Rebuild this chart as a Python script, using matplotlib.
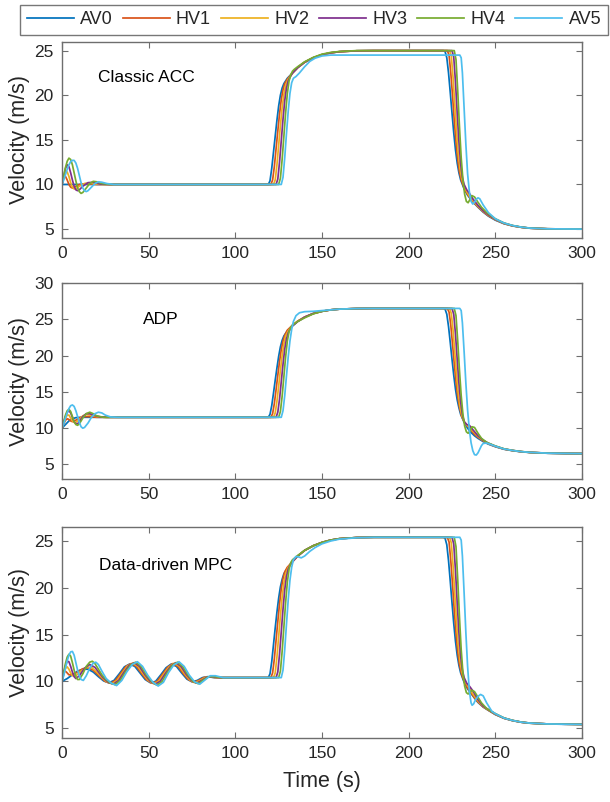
import matplotlib
matplotlib.use("Agg")
import matplotlib.pyplot as plt

plt.rcParams['font.family'] = ['Liberation Sans', 'DejaVu Sans']

NAMES = ["AV0", "HV1", "HV2", "HV3", "HV4", "AV5"]
COLORS = ["#0072BD", "#D95319", "#EDB120", "#7E2F8E", "#77AC30", "#4DBEEE"]
TITLES = ["Classic ACC", "ADP", "Data-driven MPC"]
XTICKS = [0, 50, 100, 150, 200, 250, 300]

# ---------------- Panel 1: Classic ACC  (time s, velocity m/s) ----------------
ACC_AV0 = [(0, 10), (119, 10), (120, 10.4), (121, 11.8), (122, 13.6), (123, 15.4), (124, 17.2), (125, 18.8),
           (126, 20.0), (127, 20.8), (128, 21.3), (130, 21.9), (133, 22.5), (136, 23.1), (140, 23.7), (145, 24.2),
           (150, 24.55), (155, 24.75), (160, 24.88), (170, 24.98), (180, 25), (220, 25), (221, 24.9), (222, 24.2),
           (223, 22.5), (224, 20.3), (225, 18.0), (226, 15.8), (227, 13.9), (228, 12.4), (229, 11.3), (230, 10.5),
           (232, 9.5), (234, 8.8), (236, 8.3), (238, 7.85), (240, 7.45), (243, 6.9), (246, 6.45), (250, 6.0),
           (255, 5.6), (260, 5.35), (265, 5.2), (270, 5.1), (280, 5.03), (290, 5.0), (300, 5.0)]
ACC_HV1 = [(0, 10), (1, 10.8), (2, 10.9), (3, 10.5), (4, 10.0), (5, 9.7), (6, 9.6), (8, 9.8), (10, 10.0), (14, 10.1),
           (20, 10), (120.5, 10), (121.5, 10.5), (122.5, 12.0), (123.5, 14.0), (124.5, 16.0), (125.5, 17.9),
           (126.5, 19.5), (127.5, 20.6), (128.5, 21.3), (130, 21.8), (133, 22.5), (136, 23.1), (140, 23.7),
           (145, 24.2), (150, 24.55), (155, 24.75), (160, 24.88), (170, 24.98), (180, 25), (222.3, 25), (223.3, 24.5),
           (224.3, 22.5), (225.3, 20.0), (226.3, 17.2), (227.3, 14.8), (228.3, 12.8), (229.3, 11.4), (230.5, 10.4),
           (232, 9.6), (234, 8.9), (236, 8.35), (238, 7.9), (240, 7.5), (243, 6.95), (246, 6.5), (250, 6.05),
           (255, 5.62), (260, 5.36), (265, 5.2), (270, 5.1), (280, 5.03), (300, 5.0)]
ACC_HV2 = [(0, 10), (1, 10.8), (2, 11.4), (3, 11.4), (4, 10.9), (5, 10.2), (6, 9.7), (7, 9.5), (8, 9.5), (10, 9.8),
           (13, 10.1), (16, 10.15), (20, 10.05), (25, 10), (122, 10), (123, 10.5), (124, 12.2), (125, 14.4),
           (126, 16.6), (127, 18.6), (128, 20.1), (129, 21.1), (130.5, 21.8), (133, 22.5), (136, 23.1), (140, 23.7),
           (145, 24.2), (150, 24.55), (155, 24.75), (160, 24.88), (170, 24.98), (180, 25), (223.6, 25), (224.6, 24.4),
           (225.6, 22.0), (226.6, 19.0), (227.6, 16.0), (228.6, 13.5), (229.6, 11.8), (230.6, 10.7), (232, 9.8),
           (233.5, 9.2), (235, 8.7), (237, 8.2), (240, 7.55), (243, 7.0), (246, 6.55), (250, 6.08), (255, 5.64),
           (260, 5.37), (265, 5.2), (270, 5.1), (280, 5.03), (300, 5.0)]
ACC_HV3 = [(0, 10), (1, 10.9), (2, 11.8), (3, 12.2), (4, 12.0), (5, 11.3), (6, 10.5), (7, 9.8), (8, 9.4), (9, 9.3),
           (10, 9.4), (12, 9.8), (15, 10.2), (18, 10.25), (22, 10.05), (27, 10), (123.5, 10), (124.5, 10.6),
           (125.5, 12.5), (126.5, 14.9), (127.5, 17.3), (128.5, 19.4), (129.5, 20.8), (130.5, 21.6), (131.5, 22.0),
           (133, 22.5), (136, 23.1), (140, 23.7), (145, 24.2), (150, 24.55), (155, 24.75), (160, 24.88), (170, 24.98),
           (180, 25), (225, 25), (226, 24.3), (227, 21.5), (228, 18.0), (229, 14.8), (230, 12.3), (231, 10.8),
           (232, 10.0), (233.5, 9.4), (235, 9.0), (237, 8.4), (240, 7.65), (243, 7.05), (246, 6.6), (250, 6.1),
           (255, 5.66), (260, 5.38), (265, 5.21), (270, 5.1), (280, 5.03), (300, 5.0)]
ACC_HV4 = [(0, 10), (1, 11.0), (2, 11.9), (3, 12.6), (4, 12.95), (5, 12.8), (6, 12.2), (7, 11.3), (8, 10.4),
           (9, 9.6), (10, 9.2), (11, 9.0), (12, 9.1), (14, 9.6), (16, 10.1), (18, 10.35), (20, 10.3), (23, 10.1),
           (28, 10), (125, 10), (126, 10.7), (127, 12.8), (128, 15.4), (129, 18.0), (130, 20.2), (131, 21.6),
           (132, 22.3), (133, 22.7), (134, 22.9), (136, 23.2), (140, 23.75), (145, 24.25), (150, 24.6), (155, 24.8),
           (160, 24.9), (170, 25), (180, 25), (226.3, 25), (227.3, 24.0), (228.3, 20.5), (229.3, 16.5), (230.3, 13.0),
           (231.3, 10.5), (232.3, 8.9), (233.3, 8.1), (234.3, 7.95), (235.3, 8.3), (236.5, 8.75), (238, 8.6),
           (240, 8.0), (242, 7.45), (245, 6.85), (250, 6.15), (255, 5.68), (260, 5.4), (265, 5.22), (270, 5.11),
           (280, 5.03), (300, 5.0)]
ACC_AV5 = [(0, 10), (1, 10.5), (2, 11.1), (3, 11.7), (4, 12.2), (5, 12.55), (6, 12.7), (7, 12.7), (8, 12.4),
           (9, 11.8), (10, 11.0), (11, 10.2), (12, 9.6), (13, 9.3), (14, 9.2), (15, 9.3), (17, 9.7), (19, 10.1),
           (21, 10.3), (23, 10.25), (26, 10.1), (30, 10), (126.5, 10), (127.5, 10.8), (128.5, 13.0), (129.5, 15.7),
           (130.5, 18.2), (131.5, 20.2), (132.5, 21.4), (133.5, 21.9), (135, 22.1), (137, 22.5), (140, 23.2),
           (143, 23.8), (146, 24.15), (150, 24.4), (155, 24.5), (229.5, 24.5), (230.3, 24.2), (231, 22.5),
           (232, 18.5), (233, 14.5), (234, 11.2), (235, 9.2), (236, 8.1), (237, 7.8), (238, 8.0), (239, 8.35),
           (240, 8.5), (241, 8.4), (243, 7.7), (246, 6.85), (250, 6.15), (255, 5.68), (260, 5.4), (265, 5.22),
           (270, 5.11), (280, 5.03), (300, 5.0)]

# ---------------- Panel 2: ADP ----------------
ADP_AV0 = [(0, 10), (2, 10.5), (4, 11.0), (6, 11.3), (8, 11.45), (11, 11.5), (119, 11.5), (120, 11.9), (121, 13.1),
           (122, 14.8), (123, 16.6), (124, 18.3), (125, 19.9), (126, 21.2), (127, 22.1), (128, 22.7), (130, 23.4),
           (133, 24.1), (136, 24.7), (140, 25.3), (145, 25.8), (150, 26.1), (155, 26.3), (160, 26.4), (170, 26.48),
           (180, 26.5), (220, 26.5), (221, 26.4), (222, 25.7), (223, 24.0), (224, 21.8), (225, 19.5), (226, 17.3),
           (227, 15.4), (228, 13.9), (229, 12.8), (230, 11.9), (232, 10.8), (234, 10.0), (236, 9.4), (238, 8.95),
           (240, 8.6), (243, 8.15), (246, 7.8), (250, 7.45), (255, 7.1), (260, 6.9), (265, 6.75), (270, 6.65),
           (280, 6.55), (290, 6.5), (300, 6.5)]
ADP_HV1 = [(0, 10), (1, 10.6), (2, 11.1), (3, 11.3), (4, 11.2), (5, 11.0), (6, 10.9), (8, 11.1), (10, 11.4),
           (12, 11.6), (15, 11.6), (20, 11.5), (120.5, 11.5), (121.5, 12.0), (122.5, 13.4), (123.5, 15.3),
           (124.5, 17.3), (125.5, 19.2), (126.5, 20.8), (127.5, 22.0), (128.5, 22.8), (130, 23.5), (133, 24.2),
           (136, 24.75), (140, 25.3), (145, 25.8), (150, 26.1), (155, 26.3), (160, 26.4), (170, 26.48), (180, 26.5),
           (222.3, 26.5), (223.3, 26.0), (224.3, 24.2), (225.3, 21.6), (226.3, 18.9), (227.3, 16.4), (228.3, 14.4),
           (229.3, 12.9), (230.5, 11.7), (232, 10.9), (234, 10.3), (236, 9.7), (238, 9.15), (240, 8.75), (243, 8.25),
           (246, 7.85), (250, 7.48), (255, 7.12), (260, 6.91), (265, 6.76), (270, 6.66), (280, 6.56), (300, 6.5)]
ADP_HV2 = [(0, 10), (1, 10.7), (2, 11.4), (3, 11.8), (4, 11.8), (5, 11.4), (6, 11.0), (7, 10.8), (8, 10.8),
           (10, 11.2), (12, 11.7), (14, 11.9), (16, 11.8), (20, 11.6), (25, 11.5), (122, 11.5), (123, 12.1),
           (124, 13.7), (125, 15.8), (126, 18.0), (127, 20.0), (128, 21.6), (129, 22.7), (130.5, 23.4), (133, 24.2),
           (136, 24.75), (140, 25.3), (145, 25.8), (150, 26.1), (155, 26.3), (160, 26.4), (170, 26.48), (180, 26.5),
           (223.6, 26.5), (224.6, 25.8), (225.6, 23.5), (226.6, 20.5), (227.6, 17.5), (228.6, 14.9), (229.6, 13.0),
           (230.6, 11.8), (232, 10.9), (233.5, 10.4), (235, 10.2), (237, 9.6), (240, 8.85), (243, 8.3), (246, 7.9),
           (250, 7.5), (255, 7.13), (260, 6.92), (265, 6.77), (270, 6.66), (280, 6.56), (300, 6.5)]
ADP_HV3 = [(0, 10), (1, 10.8), (2, 11.6), (3, 12.2), (4, 12.4), (5, 12.1), (6, 11.5), (7, 10.9), (8, 10.6),
           (9, 10.6), (10, 10.9), (12, 11.6), (14, 12.0), (16, 12.0), (18, 11.8), (22, 11.55), (26, 11.5),
           (123.5, 11.5), (124.5, 12.2), (125.5, 14.0), (126.5, 16.4), (127.5, 18.8), (128.5, 20.9), (129.5, 22.3),
           (130.5, 23.1), (131.5, 23.6), (133, 24.1), (136, 24.7), (140, 25.3), (145, 25.8), (150, 26.1), (155, 26.3),
           (160, 26.4), (170, 26.48), (180, 26.5), (225, 26.5), (226, 25.7), (227, 23.0), (228, 19.5), (229, 16.2),
           (230, 13.6), (231, 11.9), (232, 10.9), (233.5, 10.5), (235, 10.4), (237, 9.8), (240, 8.95), (243, 8.35),
           (246, 7.92), (250, 7.52), (255, 7.14), (260, 6.93), (265, 6.77), (270, 6.67), (280, 6.56), (300, 6.5)]
ADP_HV4 = [(0, 10), (1, 10.9), (2, 11.8), (3, 12.4), (4, 12.6), (5, 12.3), (6, 11.6), (7, 10.9), (8, 10.5),
           (9, 10.4), (10, 10.6), (12, 11.4), (14, 12.0), (16, 12.2), (18, 12.0), (20, 11.7), (24, 11.5), (125, 11.5),
           (126, 12.3), (127, 14.4), (128, 17.1), (129, 19.8), (130, 22.0), (131, 23.3), (132, 23.9), (133, 24.2),
           (136, 24.7), (140, 25.2), (145, 25.75), (150, 26.1), (155, 26.3), (160, 26.4), (170, 26.48), (180, 26.5),
           (226.3, 26.5), (227.3, 25.5), (228.3, 22.0), (229.3, 18.0), (230.3, 14.5), (231.3, 11.9), (232.3, 10.3),
           (233.3, 9.5), (234.3, 9.3), (235.3, 9.6), (236.5, 10.2), (238, 10.1), (240, 9.3), (242, 8.6), (245, 8.05),
           (250, 7.55), (255, 7.16), (260, 6.94), (265, 6.78), (270, 6.67), (280, 6.56), (300, 6.5)]
ADP_AV5 = [(0, 10), (1, 10.6), (2, 11.4), (3, 12.1), (4, 12.7), (5, 13.1), (6, 13.2), (7, 13.0), (8, 12.4),
           (9, 11.6), (10, 10.8), (11, 10.2), (12, 10.0), (13, 10.1), (15, 10.7), (17, 11.5), (19, 12.0), (21, 12.2),
           (23, 12.1), (25, 11.8), (28, 11.55), (32, 11.5), (126.5, 11.5), (127.5, 12.4), (128.5, 14.5), (129.5, 17.2),
           (130.5, 19.8), (131.5, 22.0), (132.5, 23.6), (133.5, 24.7), (135, 25.5), (137, 25.9), (140, 26.05),
           (145, 26.1), (150, 26.2), (160, 26.4), (170, 26.48), (180, 26.5), (229.5, 26.5), (230.3, 26.2),
           (231, 24.5), (232, 20.5), (233, 16.2), (234, 12.5), (235, 9.8), (236, 8.0), (237, 6.9), (238, 6.35),
           (239, 6.3), (240, 6.6), (241, 7.1), (242, 7.6), (243, 7.9), (245, 7.95), (248, 7.7), (250, 7.52),
           (255, 7.14), (260, 6.93), (265, 6.77), (270, 6.67), (280, 6.56), (300, 6.5)]

# ---------------- Panel 3: Data-driven MPC ----------------
MPC_AV0 = [(0, 10), (3, 10.3), (6, 10.7), (9, 11.1), (12, 11.3), (15, 11.3), (18, 11.0), (21, 10.5), (24, 10.05),
           (27, 9.85), (30, 10.1), (33, 10.8), (36, 11.55), (39, 11.85), (42, 11.6), (45, 10.9), (48, 10.2),
           (51, 9.85), (54, 10.0), (57, 10.7), (60, 11.45), (63, 11.85), (66, 11.6), (69, 10.9), (72, 10.25),
           (75, 9.95), (78, 10.1), (81, 10.4), (84, 10.5), (88, 10.4), (119, 10.4), (120, 10.8), (121, 12.1),
           (122, 13.9), (123, 15.7), (124, 17.4), (125, 18.9), (126, 20.1), (127, 20.9), (128, 21.5), (130, 22.1),
           (133, 22.8), (136, 23.4), (140, 24.0), (145, 24.5), (150, 24.85), (155, 25.1), (160, 25.25), (170, 25.37),
           (180, 25.4), (220, 25.4), (221, 25.3), (222, 24.6), (223, 22.9), (224, 20.7), (225, 18.4), (226, 16.2),
           (227, 14.3), (228, 12.8), (229, 11.7), (230, 10.9), (232, 9.9), (234, 9.2), (236, 8.7), (238, 8.2),
           (240, 7.75), (243, 7.25), (246, 6.9), (250, 6.45), (255, 6.05), (260, 5.8), (265, 5.63), (270, 5.53),
           (280, 5.45), (290, 5.41), (300, 5.4)]
MPC_HV1 = [(0, 10), (0.8, 10.8), (1.5, 11.15), (2.5, 11.0), (4, 10.7), (6, 10.7), (9, 11.0), (12, 11.35),
           (15, 11.45), (18, 11.2), (21.9, 10.5), (24.9, 10.0), (27.9, 9.8), (30.9, 10.1), (33.9, 10.85), (36.9, 11.6),
           (39.9, 11.9), (42.9, 11.6), (45.9, 10.85), (48.9, 10.15), (51.9, 9.8), (54.9, 10.0), (57.9, 10.75),
           (60.9, 11.5), (63.9, 11.9), (66.9, 11.6), (69.9, 10.85), (72.9, 10.2), (75.9, 9.9), (78.9, 10.1),
           (81.9, 10.42), (85, 10.48), (89, 10.4), (120.5, 10.4), (121.5, 10.9), (122.5, 12.4), (123.5, 14.4),
           (124.5, 16.4), (125.5, 18.3), (126.5, 19.9), (127.5, 21.0), (128.5, 21.7), (130, 22.2), (133, 22.8),
           (136, 23.4), (140, 24.0), (145, 24.5), (150, 24.85), (155, 25.1), (160, 25.25), (170, 25.37), (180, 25.4),
           (222.3, 25.4), (223.3, 24.9), (224.3, 22.9), (225.3, 20.4), (226.3, 17.6), (227.3, 15.2), (228.3, 13.2),
           (229.3, 11.8), (230.5, 10.8), (232, 10.0), (234, 9.3), (236, 8.75), (238, 8.25), (240, 7.8), (243, 7.28),
           (246, 6.92), (250, 6.47), (255, 6.06), (260, 5.8), (265, 5.63), (270, 5.53), (280, 5.45), (300, 5.4)]
MPC_HV2 = [(0, 10), (1, 10.8), (2, 11.4), (3, 11.55), (4, 11.3), (5, 10.9), (6, 10.6), (8, 10.6), (11, 11.1),
           (14, 11.5), (17, 11.5), (20, 11.0), (22.8, 10.45), (25.8, 9.95), (28.8, 9.75), (31.8, 10.1), (34.8, 10.9),
           (37.8, 11.65), (40.8, 11.95), (43.8, 11.6), (46.8, 10.8), (49.8, 10.1), (52.8, 9.75), (55.8, 10.0),
           (58.8, 10.8), (61.8, 11.55), (64.8, 11.95), (67.8, 11.6), (70.8, 10.8), (73.8, 10.15), (76.8, 9.85),
           (79.8, 10.1), (82.8, 10.42), (86, 10.48), (90, 10.4), (122, 10.4), (123, 10.9), (124, 12.6), (125, 14.8),
           (126, 17.0), (127, 19.0), (128, 20.5), (129, 21.5), (130.5, 22.2), (133, 22.8), (136, 23.4), (140, 24.0),
           (145, 24.5), (150, 24.85), (155, 25.1), (160, 25.25), (170, 25.37), (180, 25.4), (223.6, 25.4),
           (224.6, 24.8), (225.6, 22.4), (226.6, 19.4), (227.6, 16.4), (228.6, 13.9), (229.6, 12.2), (230.6, 11.1),
           (232, 10.2), (233.5, 9.7), (235, 9.3), (237, 8.65), (240, 7.9), (243, 7.3), (246, 6.95), (250, 6.5),
           (255, 6.07), (260, 5.81), (265, 5.64), (270, 5.53), (280, 5.45), (300, 5.4)]
MPC_HV3 = [(0, 10), (1, 10.9), (2, 11.7), (3, 12.15), (4, 12.1), (5, 11.6), (6, 11.0), (7, 10.5), (8, 10.3),
           (10, 10.6), (13, 11.4), (16, 11.8), (19, 11.5), (21.5, 10.9), (23.7, 10.4), (26.7, 9.9), (29.7, 9.7),
           (32.7, 10.1), (35.7, 10.95), (38.7, 11.7), (41.7, 12.0), (44.7, 11.6), (47.7, 10.75), (50.7, 10.05),
           (53.7, 9.7), (56.7, 10.0), (59.7, 10.85), (62.7, 11.6), (65.7, 12.0), (68.7, 11.6), (71.7, 10.75),
           (74.7, 10.1), (77.7, 9.8), (80.7, 10.1), (83.7, 10.45), (87, 10.48), (91, 10.4), (123.5, 10.4),
           (124.5, 11.0), (125.5, 12.9), (126.5, 15.3), (127.5, 17.7), (128.5, 19.8), (129.5, 21.2), (130.5, 22.0),
           (131.5, 22.4), (133, 22.8), (136, 23.4), (140, 24.0), (145, 24.5), (150, 24.85), (155, 25.1), (160, 25.25),
           (170, 25.37), (180, 25.4), (225, 25.4), (226, 24.7), (227, 21.9), (228, 18.4), (229, 15.2), (230, 12.7),
           (231, 11.2), (232, 10.4), (233.5, 9.8), (235, 9.5), (237, 9.0), (240, 8.05), (243, 7.35), (246, 6.98),
           (250, 6.52), (255, 6.08), (260, 5.82), (265, 5.64), (270, 5.54), (280, 5.45), (300, 5.4)]
MPC_HV4 = [(0, 10), (1, 11.0), (2, 11.9), (3, 12.6), (4, 12.9), (5, 12.7), (6, 12.0), (7, 11.2), (8, 10.5),
           (9, 10.2), (10, 10.2), (12, 10.8), (14, 11.6), (16, 12.05), (17.5, 12.15), (19, 11.9), (21, 11.3),
           (23, 10.7), (24.6, 10.35), (27.6, 9.85), (30.6, 9.65), (33.6, 10.1), (36.6, 11.0), (39.6, 11.75),
           (42.6, 12.05), (45.6, 11.6), (48.6, 10.7), (51.6, 10.0), (54.6, 9.6), (57.6, 9.95), (60.6, 10.9),
           (63.6, 11.7), (66.6, 12.05), (69.6, 11.6), (72.6, 10.7), (75.6, 10.0), (78.6, 9.75), (81.6, 10.15),
           (84.6, 10.5), (88, 10.5), (92, 10.4), (125, 10.4), (126, 11.1), (127, 13.2), (128, 15.8), (129, 18.4),
           (130, 20.6), (131, 22.0), (132, 22.7), (133, 23.0), (134, 23.15), (136, 23.45), (140, 24.0), (145, 24.5),
           (150, 24.85), (155, 25.1), (160, 25.25), (170, 25.37), (180, 25.4), (226.3, 25.4), (227.3, 24.4),
           (228.3, 20.9), (229.3, 16.9), (230.3, 13.4), (231.3, 10.9), (232.3, 9.5), (233.3, 8.8), (234.3, 8.65),
           (235.3, 8.85), (236.5, 9.05), (238, 8.9), (240, 8.3), (242, 7.7), (245, 7.1), (250, 6.55), (255, 6.09),
           (260, 5.83), (265, 5.65), (270, 5.54), (280, 5.45), (300, 5.4)]
MPC_AV5 = [(0, 10), (1, 10.6), (2, 11.4), (3, 12.2), (4, 12.8), (5, 13.15), (6, 13.2), (7, 12.8), (8, 12.0),
           (9, 11.2), (10, 10.6), (11, 10.2), (12.3, 10.1), (14, 10.6), (16, 11.4), (18, 11.95), (19.5, 12.05),
           (21, 11.8), (23, 11.1), (25.5, 10.3), (28.5, 9.8), (31.5, 9.55), (34.5, 10.1), (37.5, 11.05), (40.5, 11.8),
           (43.5, 12.1), (46.5, 11.6), (49.5, 10.65), (52.5, 9.9), (55.5, 9.5), (58.5, 9.9), (61.5, 10.95),
           (64.5, 11.75), (67.5, 12.1), (70.5, 11.6), (73.5, 10.65), (76.5, 9.95), (79.5, 9.7), (82.5, 10.15),
           (85.5, 10.6), (88.5, 10.6), (93, 10.4), (126.5, 10.4), (127.5, 11.2), (128.5, 13.4), (129.5, 16.1),
           (130.5, 18.7), (131.5, 20.8), (132.5, 22.2), (133.5, 23.0), (135, 23.35), (136.5, 23.3), (138, 23.2),
           (140, 23.4), (143, 23.9), (146, 24.3), (150, 24.7), (155, 25.0), (160, 25.2), (170, 25.35), (180, 25.4),
           (229.5, 25.4), (230.3, 25.1), (231, 23.4), (232, 19.4), (233, 15.2), (234, 11.6), (235, 9.0), (236, 7.7),
           (236.6, 7.45), (237.5, 7.6), (238.5, 8.0), (240, 8.4), (241.5, 8.6), (243, 8.45), (245, 7.7), (248, 6.8),
           (250, 6.55), (255, 6.08), (260, 5.82), (265, 5.64), (270, 5.54), (280, 5.45), (300, 5.4)]

PANELS = [
    [ACC_AV0, ACC_HV1, ACC_HV2, ACC_HV3, ACC_HV4, ACC_AV5],
    [ADP_AV0, ADP_HV1, ADP_HV2, ADP_HV3, ADP_HV4, ADP_AV5],
    [MPC_AV0, MPC_HV1, MPC_HV2, MPC_HV3, MPC_HV4, MPC_AV5],
]
YLIMS = [(4, 26), (3, 30), (4, 26.5)]
YTICKS = [[5, 10, 15, 20, 25], [5, 10, 15, 20, 25, 30], [5, 10, 15, 20, 25]]

W, H = 610, 802
fig = plt.figure(figsize=(W / 100, H / 100), dpi=100)

# axes boxes in pixels: (left, top, right, bottom)
BOXES = [(62, 41.7, 582, 238), (62, 283, 582, 479), (62, 527, 582, 737.5)]
TEXT_POS = [(20.5, 22.0), (47, 25.0), (21.5, 22.4)]

AX_COLOR = "#6e6e6e"
TXT_COLOR = "#262626"
lines_for_legend = []
for i, (box, series) in enumerate(zip(BOXES, PANELS)):
    l, t, r, b = box
    ax = fig.add_axes([l / W, 1 - b / H, (r - l) / W, (b - t) / H])
    for k, pts in enumerate(series):
        ts = [p[0] for p in pts]
        vs = [p[1] for p in pts]
        ln, = ax.plot(ts, vs, color=COLORS[k], lw=1.25, label=NAMES[k], solid_joinstyle='round')
        if i == 0:
            lines_for_legend.append(ln)
    ax.set_xlim(0, 300)
    ax.set_ylim(*YLIMS[i])
    ax.set_xticks(XTICKS)
    ax.set_yticks(YTICKS[i])
    ax.tick_params(direction='in', length=4, width=0.8, colors=AX_COLOR, labelcolor=TXT_COLOR,
                   labelsize=12.5, top=True, right=True, pad=6)
    for sp in ax.spines.values():
        sp.set_color(AX_COLOR)
        sp.set_linewidth(1.0)
    ax.set_ylabel("Velocity (m/s)", fontsize=15.5, color=TXT_COLOR, labelpad=3)
    ax.text(TEXT_POS[i][0], TEXT_POS[i][1], TITLES[i], fontsize=12.5, color="black",
            ha='left', va='center')
    if i == 2:
        ax.set_xlabel("Time (s)", fontsize=15.5, color=TXT_COLOR, labelpad=7)

leg = fig.legend(handles=lines_for_legend, labels=NAMES, loc='center', ncol=6,
                 bbox_to_anchor=(314 / W, 1 - 20 / H), frameon=True, fancybox=False,
                 fontsize=13, handlelength=2.6, handletextpad=0.35, columnspacing=0.55,
                 borderpad=0.35, borderaxespad=0)
leg.get_frame().set_edgecolor("#555555")
leg.get_frame().set_linewidth(1.0)
for txt in leg.get_texts():
    txt.set_color(TXT_COLOR)

fig.savefig("out.png", dpi=100)
